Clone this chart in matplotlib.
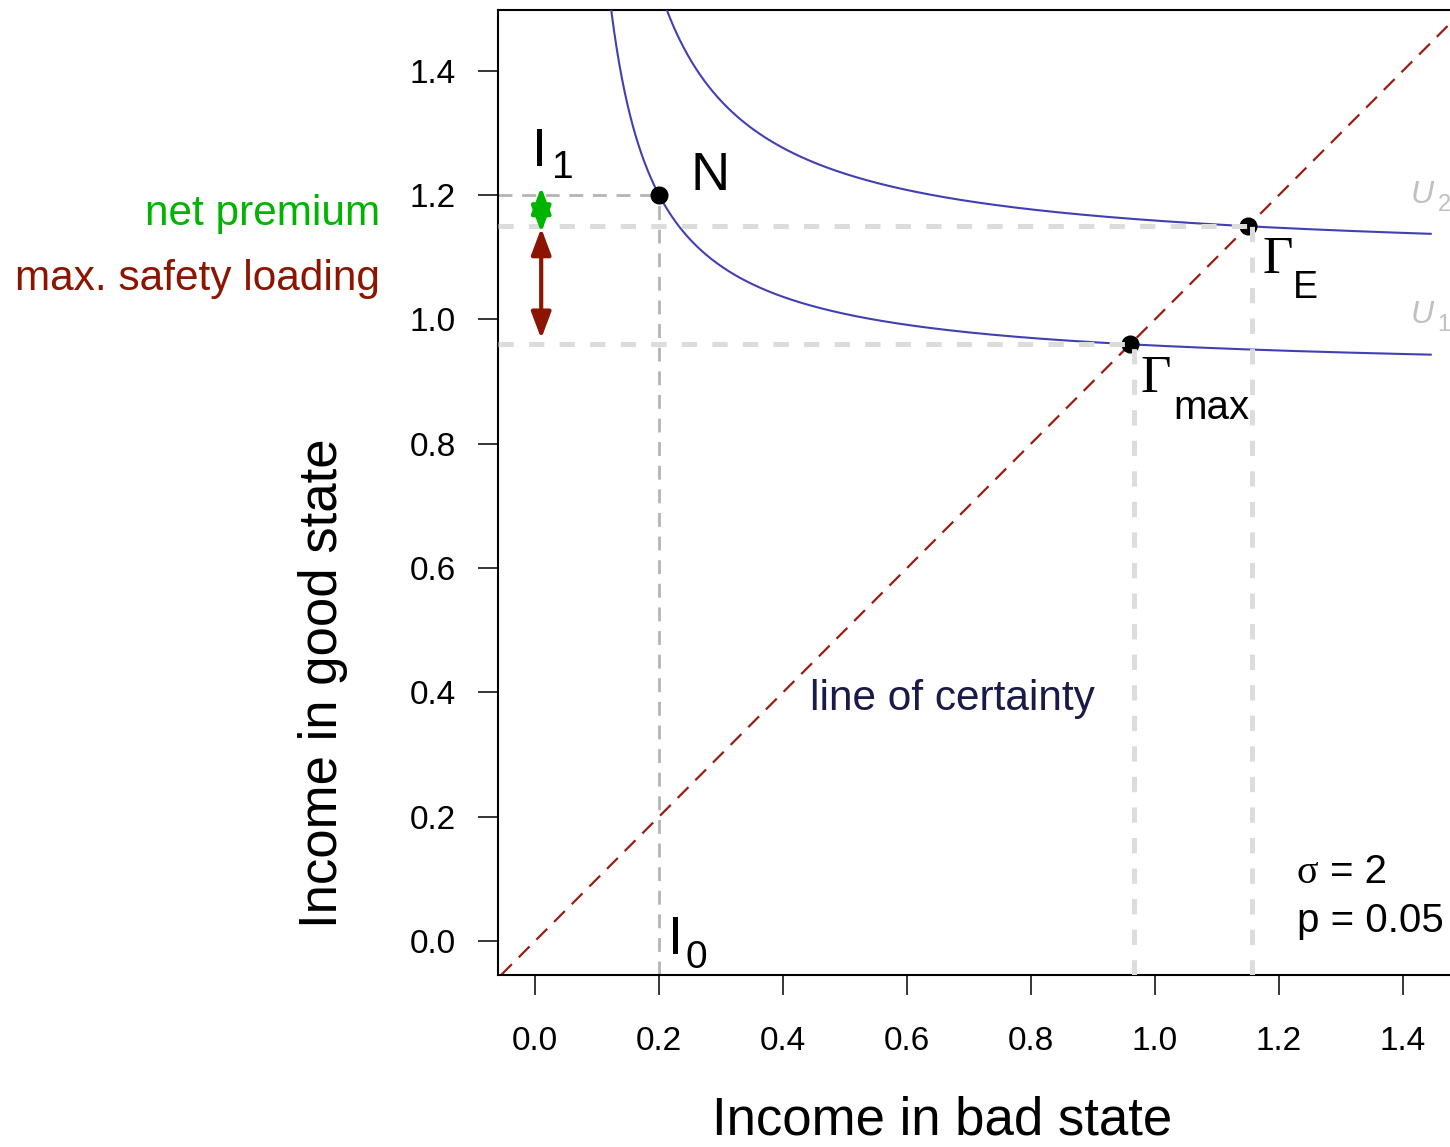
import numpy as np
import matplotlib.pyplot as plt
from matplotlib.patches import FancyArrowPatch

# model parameters shown on the chart
sigma = 2
p = 0.05
I0 = 0.2   # income in bad state without insurance
I1 = 1.2   # income in good state without insurance
curve_xmax = 1.445

plt.rcParams['font.family'] = ['Liberation Sans', 'DejaVu Sans']
plt.rcParams['lines.scale_dashes'] = False


def u(c):
    return c ** (1 - sigma) / (1 - sigma)


def u_inv(v):
    return (v * (1 - sigma)) ** (1 / (1 - sigma))


def indiff(x, U):
    # income in good state giving utility U for bad-state income x
    with np.errstate(invalid='ignore', divide='ignore'):
        y = ((U - p * u(x)) * (1 - sigma) / (1 - p)) ** (1 / (1 - sigma))
    y[(y < 0) | (y > 3)] = np.nan
    return y


U1 = p * u(I0) + (1 - p) * u(I1)
g_max = u_inv(U1)                 # certainty equivalent
g_E = p * I0 + (1 - p) * I1       # expected income
U2 = u(g_E)

fig = plt.figure(figsize=(14.5, 11.47), dpi=100)
ax = fig.add_axes([0.34345, 0.14996, 0.6924, 0.84133])
ax.set_xlim(-0.06, 1.56)
ax.set_ylim(-0.055, 1.498)

xs = np.linspace(0.05, curve_xmax, 2000)
blue = '#4040b4'
ax.plot(xs, indiff(xs, U1), color=blue, lw=1.5, zorder=3)
ax.plot(xs, indiff(xs, U2), color=blue, lw=1.5, zorder=3)

# line of certainty
ax.axline((0, 0), slope=1, color='#9c1c10', lw=1.6, dashes=(11, 7), zorder=2)

# guide lines
thin = dict(color='#b4b4b4', lw=2.0, dashes=(10, 7), zorder=2)
thick = dict(color='#dcdcdc', lw=3.6, dashes=(11, 11), zorder=5)
ax.plot([-0.06, I0], [I1, I1], **thin)
ax.plot([I0, I0], [-0.055, I1], **thin)
ax.plot([-0.06, g_max], [g_max, g_max], **thick)
ax.plot([-0.06, g_E], [g_E, g_E], **thick)
ax.plot([0.967, 0.967], [-0.055, g_max], **thick)
ax.plot([1.157, 1.157], [-0.055, g_E], **thick)

# points
ax.plot([I0, g_max, g_E], [I1, g_max, g_E], 'o', color='black', ms=12, zorder=4)

# arrows
head = '<|-|>,head_length=0.8,head_width=0.3'
ax.add_patch(FancyArrowPatch((0.0097, 1.14), (0.0097, 1.213), arrowstyle=head,
                             mutation_scale=20, color='#00b400', lw=3.0,
                             shrinkA=0, shrinkB=0, zorder=6))
ax.add_patch(FancyArrowPatch((0.0097, 0.969), (0.0097, 1.147), arrowstyle=head,
                             mutation_scale=20, color='#8b1500', lw=3.0,
                             shrinkA=0, shrinkB=0, zorder=6))

# labels in the plot
ax.text(-0.005, 1.247, 'I', fontsize=39)
ax.text(0.027, 1.227, '1', fontsize=28)
ax.text(0.25, 1.208, 'N', fontsize=39)
ax.text(0.2145, -0.021, 'I', fontsize=39)
ax.text(0.242, -0.0435, '0', fontsize=28)
ax.text(1.173, 1.074, 'Γ', fontsize=38, family='Liberation Serif')
ax.text(1.223, 1.034, 'E', fontsize=27)
ax.text(0.976, 0.884, 'Γ', fontsize=38, family='Liberation Serif')
ax.text(1.029, 0.840, 'max', fontsize=29)
grey = '#c0c0c0'
ax.text(1.413, 1.187, 'U', fontsize=23, style='italic', color=grey)
ax.text(1.456, 1.174, '2', fontsize=17, color=grey)
ax.text(1.413, 0.994, 'U', fontsize=23, style='italic', color=grey)
ax.text(1.456, 0.981, '1', fontsize=17, color=grey)
ax.text(0.4435, 0.372, 'line of certainty', fontsize=30.5, color='#1a1a48')
ax.text(1.229, 0.0935, 'σ', fontsize=29, family='Liberation Serif')
ax.text(1.282, 0.0935, '= 2', fontsize=29)
ax.text(1.229, 0.0145, 'p = 0.05', fontsize=29)

# labels to the left of the axes
ax.text(-0.25, 1.152, 'net premium', fontsize=30.5, color='#00b400', ha='right')
ax.text(-0.25, 1.047, 'max. safety loading', fontsize=30.5, color='#8b1500', ha='right')

ticks = [0.0, 0.2, 0.4, 0.6, 0.8, 1.0, 1.2, 1.4]
ax.set_xticks(ticks)
ax.set_yticks(ticks)
ax.set_xticklabels([f'{t:.1f}' for t in ticks])
ax.set_yticklabels([f'{t:.1f}' for t in ticks])
ax.tick_params(axis='both', direction='out', length=14.4, width=1.1, labelsize=24)
ax.tick_params(axis='x', pad=22)
ax.tick_params(axis='y', pad=16)
for s in ax.spines.values():
    s.set_linewidth(1.5)

fig.text(0.650, 0.011, 'Income in bad state', fontsize=38, ha='center', va='baseline')
fig.text(0.2228, 0.4045, 'Income in good state', fontsize=38, rotation=90,
         ha='center', va='center')

fig.savefig('out.png', dpi=100)
